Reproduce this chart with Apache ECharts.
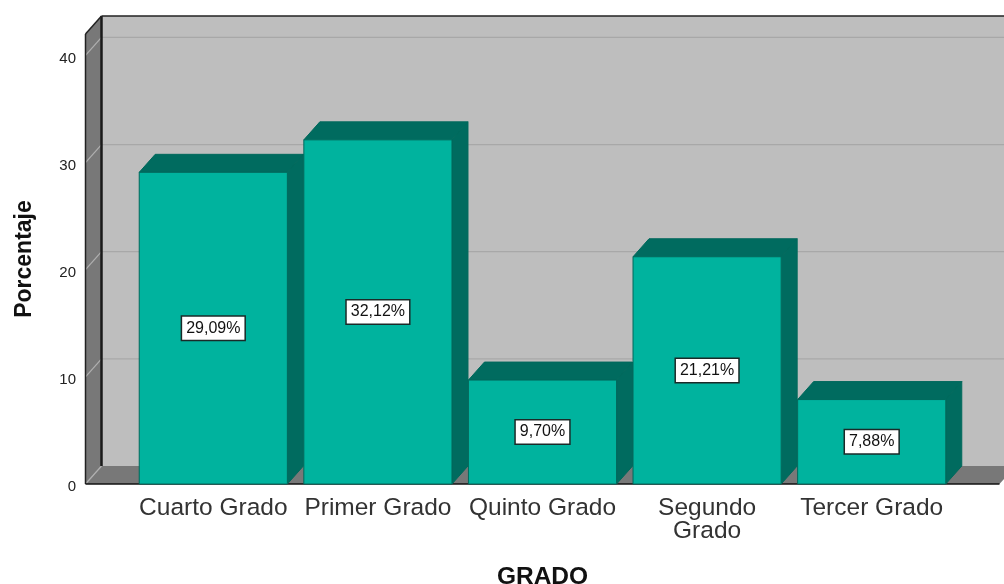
<!DOCTYPE html>
<html><head><meta charset="utf-8">
<style>html,body{margin:0;padding:0;background:#fff}#c{width:1004px;height:584px}</style>
<script src="https://cdn.jsdelivr.net/npm/echarts@6/dist/echarts.min.js"></script>
</head><body><div id="c"></div>
<script>
const categories = ['Cuarto Grado','Primer Grado','Quinto Grado','Segundo\nGrado','Tercer Grado'];
const percentages = [29.09,32.12,9.70,21.21,7.88];
const gridTicks = [0,10,20,30,40];
const xTitle = 'GRADO', yTitle = 'Porcentaje';
const DX = 16, DY = 18, MARGIN = 45.5;
const FRONT='#00B39E', DARK='#006B5F', EDGE='#00695C';
const FONT='"Liberation Sans", Arial, sans-serif';

function poly(points, fill, stroke, lw){
  return {type:'polygon',shape:{points},style:{fill,stroke:stroke||null,lineWidth:lw||0}};
}
function line(x1,y1,x2,y2,stroke,lw){
  return {type:'line',shape:{x1,y1,x2,y2},style:{stroke,lineWidth:lw}};
}
const chart = echarts.init(document.getElementById('c'),null,{renderer:'canvas'});
chart.setOption({
  animation:false,
  backgroundColor:'#fff',
  grid:{left:131,width:823,top:34,height:450,containLabel:false,outerBoundsMode:'none'},
  xAxis:{type:'category',data:categories,
    axisLine:{show:false},axisTick:{show:false},
    axisLabel:{fontFamily:FONT,fontSize:24.5,color:'#333',margin:13,lineHeight:23,interval:0},
    name:xTitle,nameLocation:'middle',nameGap:81,
    nameTextStyle:{fontFamily:FONT,fontSize:24.5,fontWeight:'bold',color:'#111'}},
  yAxis:{type:'value',min:0,max:42,interval:10,
    axisLine:{show:false},axisTick:{show:false},splitLine:{show:false},
    axisLabel:{margin:55,showMaxLabel:false,formatter:'{v|{value}}',
      rich:{v:{fontFamily:FONT,fontSize:15,color:'#222',padding:[6,0,0,0]}}},
    name:yTitle,nameLocation:'middle',nameGap:95,
    nameTextStyle:{fontFamily:FONT,fontSize:23,fontWeight:'bold',color:'#111'}},
  series:[
    {type:'custom',silent:true,z:1,data:[0],
     renderItem(params,api){
       const c=params.coordSys;
       const l=c.x-MARGIN, r=c.x+c.width+MARGIN, t=c.y, b=c.y+c.height;
       const ch=[
         {type:'rect',shape:{x:l+DX,y:t-DY,width:r-l,height:b-t},style:{fill:'#BEBEBE'}},
         poly([[l,b],[l+DX,b-DY],[l+DX,t-DY],[l,t]],'#787878'),
         poly([[l,b],[r,b],[r+DX,b-DY],[l+DX,b-DY]],'#787878')
       ];
       gridTicks.forEach(v=>{
         const y=api.coord([0,v])[1];
         ch.push(line(l,y,l+DX,y-DY,'#B0B0B0',1.2));
         if(v>0) ch.push(line(l+DX,y-DY,r+DX,y-DY,'#A8A8A8',1.2));
       });
       ch.push(line(l+DX,t-DY,l+DX,b-DY,'#1A1A1A',2.5));
       ch.push(line(l+DX,t-DY,r+DX,t-DY,'#222',1.5));
       ch.push(line(l,t,l+DX,t-DY,'#222',1.5));
       ch.push(line(l,t,l,b,'#222',1.5));
       ch.push(line(l,b,r,b,'#111',1.5));
       return {type:'group',children:ch};
     }},
    {type:'custom',z:2,data:percentages.map((v,i)=>[i,v]),encode:{x:0,y:1},
     renderItem(params,api){
       const i=api.value(0), v=api.value(1);
       const p=api.coord([i,v]), p0=api.coord([i,0]);
       const w=api.size([1,0])[0]*0.9;
       const x=p[0]-w/2, y=p[1], h=p0[1]-p[1];
       return {type:'group',children:[
         poly([[x,y],[x+DX,y-DY],[x+w+DX,y-DY],[x+w,y]],DARK,EDGE,1),
         poly([[x+w,y],[x+w+DX,y-DY],[x+w+DX,p0[1]-DY],[x+w,p0[1]]],DARK,EDGE,1),
         {type:'rect',shape:{x,y,width:w,height:h},style:{fill:FRONT,stroke:EDGE,lineWidth:1},
          textContent:{style:{text:v.toFixed(2).replace('.',',')+'%',fontFamily:FONT,fontSize:16,fill:'#111',
            backgroundColor:'#fff',borderColor:'#1A2A28',borderWidth:1.5,padding:[4,4,3,4]}},
          textConfig:{position:'inside'}}
       ]};
     }}
  ]
});
</script></body></html>
